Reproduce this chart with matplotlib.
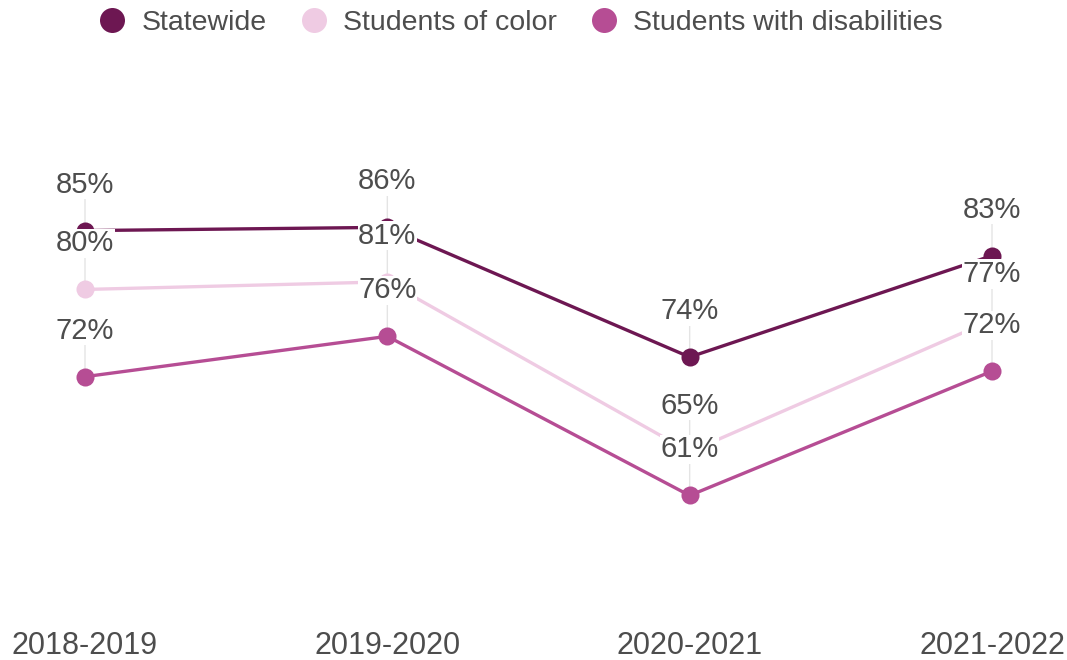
import matplotlib
matplotlib.use("Agg")
import matplotlib.pyplot as plt
from matplotlib.lines import Line2D

plt.rcParams['font.family'] = ['Liberation Sans', 'DejaVu Sans']

years = ["2018-2019", "2019-2020", "2020-2021", "2021-2022"]
statewide = [85.3, 85.6, 73.7, 83.0]
students_of_color = [79.9, 80.6, 65.0, 77.1]
students_with_disabilities = [71.9, 75.6, 61.0, 72.4]

series_names = ["Statewide", "Students of color", "Students with disabilities"]
series_values = [statewide, students_of_color, students_with_disabilities]
colors = ["#6d1752", "#efcbe3", "#b64d94"]
text_color = "#4d4d4d"

fig = plt.figure(figsize=(10.67, 6.6), dpi=100)
ax = fig.add_axes([85 / 1067, 0.0676, (992 - 85) / 1067, 0.8258])
x = list(range(len(years)))

for vals, col in zip(series_values, colors):
    ax.plot(x, vals, color=col, lw=2.4, marker='o', markersize=13,
            markeredgewidth=0, clip_on=False, zorder=3, solid_capstyle='round')
    for xi, v in zip(x, vals):
        ax.annotate('', xy=(xi, v), xytext=(0, 36), textcoords='offset pixels',
                    arrowprops=dict(arrowstyle='-', color='#e4e4e4', lw=1,
                                    shrinkA=0, shrinkB=0), zorder=1)
for vals in series_values:
    for xi, v in zip(x, vals):
        ax.annotate(f"{v:.0f}%", xy=(xi, v), xytext=(0, 38), textcoords='offset pixels',
                    ha='center', va='baseline', fontsize=21, color=text_color,
                    bbox=dict(boxstyle='square,pad=0.02', fc='white', ec='none'),
                    zorder=5, annotation_clip=False)

ax.set_xlim(0, len(years) - 1)
ax.set_ylim(50, 100)
ax.set_xticks(x)
ax.set_xticklabels(years, fontsize=22, color=text_color)
ax.tick_params(axis='x', length=0, pad=11)
ax.set_yticks([])
for s in ax.spines.values():
    s.set_visible(False)

handles = [Line2D([], [], ls='none', marker='o', markersize=18, markeredgewidth=0, color=c)
           for c in colors]
fig.legend(handles, series_names, loc='center', bbox_to_anchor=(0.4864, 1 - 23 / 660), ncol=3,
           frameon=False, fontsize=20.5, labelcolor=text_color, handletextpad=0.42,
           columnspacing=1.06, handlelength=1.2, borderpad=0, borderaxespad=0)

fig.savefig("out.png", dpi=100)
